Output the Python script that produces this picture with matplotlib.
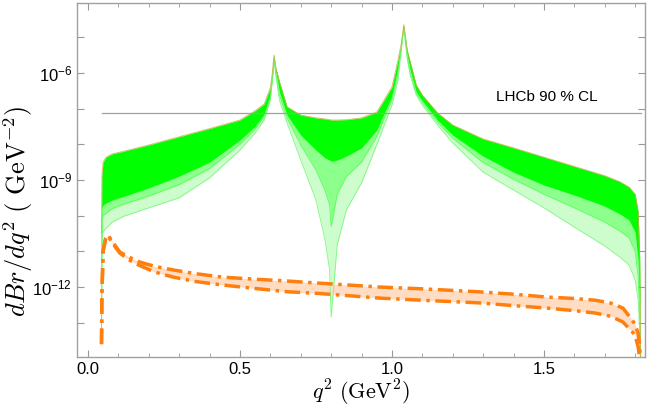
import numpy as np
import matplotlib
matplotlib.use("Agg")
import matplotlib.pyplot as plt
from matplotlib.ticker import FixedLocator, MultipleLocator

plt.rcParams['font.family'] = ['Liberation Sans', 'DejaVu Sans']
plt.rcParams['mathtext.fontset'] = 'custom'
plt.rcParams['mathtext.rm'] = 'Liberation Sans'
plt.rcParams['mathtext.it'] = 'Liberation Sans:italic'

# green family of curves: q^2 grid, upper edge, dense core edge, middle, lower edge (log10 values)
q_green = [0.0447, 0.046, 0.05, 0.06, 0.08, 0.12, 0.2, 0.3, 0.4, 0.5, 0.55, 0.58, 0.6,
           0.607, 0.612, 0.618, 0.63, 0.655, 0.7, 0.75, 0.78, 0.795, 0.8, 0.805, 0.82,
           0.85, 0.9, 0.95, 1.0, 1.02, 1.03, 1.039, 1.05, 1.06, 1.08, 1.1, 1.15, 1.2,
           1.3, 1.4, 1.5, 1.6, 1.7, 1.75, 1.78, 1.8, 1.81, 1.815, 1.8185]
green_upper = [-10.5, -8.9, -8.50, -8.36, -8.27, -8.19, -8.02, -7.79, -7.56, -7.32, -7.06,
               -6.87, -6.42, -5.97, -5.50, -5.86, -6.25, -6.95, -7.18, -7.26, -7.29, -7.31,
               -7.32, -7.32, -7.32, -7.31, -7.26, -7.10, -6.40, -5.64, -5.21, -4.65, -5.36,
               -5.69, -6.34, -6.62, -7.12, -7.46, -7.85, -8.10, -8.36, -8.62, -8.88, -9.05,
               -9.20, -9.40, -9.90, -11.2, -14.5]
green_core = [-13.0, -9.8, -9.70, -9.64, -9.56, -9.45, -9.22, -8.89, -8.50, -7.88, -7.49,
              -7.15, -6.62, -6.08, -5.55, -5.94, -6.53, -7.18, -7.74, -8.16, -8.38, -8.44,
              -8.47, -8.47, -8.44, -8.33, -8.10, -7.60, -6.64, -5.86, -5.30, -4.68, -5.47,
              -5.92, -6.53, -6.78, -7.32, -7.74, -8.33, -8.78, -9.14, -9.42, -9.73, -9.95,
              -10.12, -10.46, -11.24, -12.36, -14.5]
green_mid = [-13.2, -10.1, -10.0, -9.93, -9.80, -9.67, -9.45, -9.13, -8.68, -8.00, -7.57,
             -7.22, -6.68, -6.13, -5.59, -5.99, -6.62, -7.27, -8.02, -8.72, -9.30, -9.70,
             -10.3, -10.1, -9.40, -8.90, -8.50, -7.78, -6.74, -5.98, -5.35, -4.70, -5.52,
             -5.98, -6.57, -6.83, -7.38, -7.83, -8.51, -8.98, -9.40, -9.78, -10.18, -10.43,
             -10.62, -11.0, -11.7, -12.7, -14.5]
green_lower = [-13.5, -10.54, -10.46, -10.35, -10.18, -10.01, -9.78, -9.50, -8.94, -8.16,
               -7.68, -7.32, -6.76, -6.20, -5.64, -6.06, -6.76, -7.40, -8.44, -9.56, -10.68,
               -11.52, -12.84, -12.36, -10.82, -9.84, -9.08, -8.02, -6.90, -6.20, -5.41,
               -4.74, -5.58, -6.06, -6.62, -6.90, -7.46, -7.96, -8.78, -9.28, -9.78, -10.32,
               -10.85, -11.16, -11.38, -11.80, -12.36, -13.2, -14.5]

# orange band (log10 values)
q_orange = [0.0447, 0.046, 0.05, 0.058, 0.066, 0.08, 0.105, 0.14, 0.171, 0.22, 0.28, 0.35,
            0.44, 0.55, 0.654, 0.76, 0.87, 0.96, 1.1, 1.28, 1.4, 1.51, 1.6, 1.67, 1.72,
            1.76, 1.79, 1.80, 1.81, 1.815, 1.8185]
orange_upper = [-13.6, -12.2, -11.0, -10.65, -10.54, -10.72, -11.02, -11.18, -11.30, -11.42,
                -11.52, -11.62, -11.72, -11.78, -11.83, -11.89, -11.95, -12.00, -12.05,
                -12.13, -12.20, -12.28, -12.32, -12.37, -12.45, -12.59, -12.92, -13.05,
                -13.3, -13.6, -14.3]
orange_lower = [-13.6, -12.2, -11.0, -10.65, -10.56, -10.76, -11.05, -11.26, -11.40, -11.58,
                -11.72, -11.84, -11.94, -12.04, -12.13, -12.18, -12.25, -12.31, -12.37,
                -12.44, -12.52, -12.59, -12.66, -12.73, -12.82, -12.98, -13.25, -13.35,
                -13.68, -14.0, -14.5]

lhcb_limit = 7.6e-8
q2_range = [0.0447, 1.8185]

qg = np.array(q_green)
gu = 10.0 ** np.array(green_upper)
gc = 10.0 ** np.array(green_core)
gm = 10.0 ** np.array(green_mid)
gl = 10.0 ** np.array(green_lower)
qo = np.array(q_orange)
ou = 10.0 ** np.array(orange_upper)
ol = 10.0 ** np.array(orange_lower)

fig = plt.figure(figsize=(6.54, 4.08), dpi=100)
ax = fig.add_axes([0.1177, 0.125, 0.8683, 0.8676])

ax.fill_between(qg, gl, gu, color='#cdfdcd', lw=0)
ax.plot(qg, gl, color='#80f880', lw=0.6)
ax.fill_between(qg, gm, gu, color='#8cff8c', lw=0)
ax.plot(qg, gm, color='#5cff5c', lw=0.6)
ax.fill_between(qg, gc, gu, color='#00ff00', lw=0)
ax.plot(qg, gu, color='#c8b048', lw=0.7, alpha=0.8)

ax.fill_between(qo, ol, ou, color='#ffdcc2', lw=0)
ax.plot(qo, ou, color='#ff7f0e', lw=2.5, ls=(0, (4.5, 1.6, 1, 1.6)))
ax.plot(qo, ol, color='#ff7f0e', lw=2.5, ls=(0, (4.5, 1.6, 1, 1.6)))

ax.plot(q2_range, [lhcb_limit, lhcb_limit], color='#a0a0a0', lw=0.9)
ax.text(1.51, 2.1e-7, 'LHCb 90 % CL', fontsize=11, ha='center', va='center')

ax.set_yscale('log')
ax.set_xlim(-0.036, 1.832)
ax.set_ylim(10 ** -13.96, 10 ** -4.04)

decades = [10.0 ** k for k in range(-14, -3)]
ax.yaxis.set_major_locator(FixedLocator(decades))
ax.yaxis.set_minor_locator(FixedLocator([]))
ax.set_yticklabels(['$10^{%d}$' % k if k in (-6, -9, -12) else '' for k in range(-14, -3)])
ax.xaxis.set_major_locator(MultipleLocator(0.5))
ax.xaxis.set_minor_locator(MultipleLocator(0.1))
ax.xaxis.set_major_formatter(plt.FuncFormatter(lambda v, p: '%.1f' % v))

for s in ax.spines.values():
    s.set_color('#a0a0a0')
    s.set_linewidth(1.0)
ax.tick_params(which='both', direction='in', top=True, right=True, color='#999999',
               labelsize=12, labelcolor='black')
ax.tick_params(which='major', length=5, width=0.8)
ax.tick_params(which='minor', length=3, width=0.6)

ax.set_xlabel(r'$q^2\ (\mathrm{GeV}^2)$', fontsize=16, math_fontfamily='cm', labelpad=1)
ax.set_ylabel(r'$dBr/dq^2\ (\ \mathrm{GeV}^{-2})$', fontsize=19, math_fontfamily='cm')
ax.yaxis.set_label_coords(-0.074, 0.41)

fig.savefig('out.png', dpi=100)
